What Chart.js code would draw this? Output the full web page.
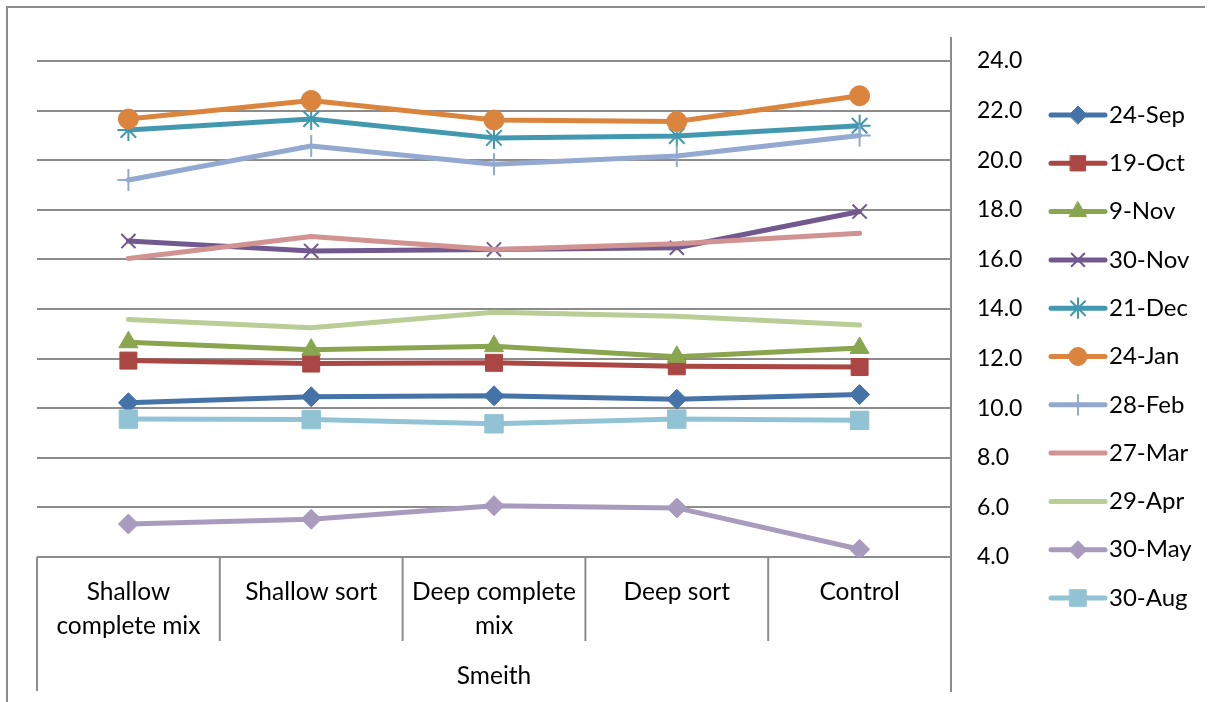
<!DOCTYPE html>
<html>
<head>
<meta charset="utf-8">
<script src="https://cdn.jsdelivr.net/npm/chart.js@4.4.1/dist/chart.umd.min.js"></script>
<style>
  html, body { margin: 0; padding: 0; background: #fff; }
  #wrap { position: relative; width: 1215px; height: 702px; }
</style>
</head>
<body>
<div id="wrap"><canvas id="chart" width="1215" height="702"></canvas></div>
<script>
// categories and group
const categories = [['Shallow', 'complete mix'], ['Shallow sort'], ['Deep complete', 'mix'], ['Deep sort'], ['Control']];
const groupLabel = 'Smeith';

// series values
const sep24 = [10.22, 10.46, 10.50, 10.36, 10.55];
const oct19 = [11.92, 11.80, 11.83, 11.69, 11.66];
const nov9  = [12.66, 12.36, 12.50, 12.07, 12.43];
const nov30 = [16.74, 16.34, 16.40, 16.47, 17.93];
const dec21 = [21.22, 21.66, 20.90, 20.98, 21.39];
const jan24 = [21.66, 22.41, 21.62, 21.56, 22.60];
const feb28 = [19.20, 20.57, 19.84, 20.17, 21.00];
const mar27 = [16.04, 16.92, 16.40, 16.63, 17.05];
const apr29 = [13.58, 13.24, 13.87, 13.71, 13.35];
const may30 = [5.33, 5.52, 6.07, 5.98, 4.31];
const aug30 = [9.56, 9.54, 9.37, 9.56, 9.51];

// y axis ticks
const yMin = 4, yMax = 24, yStep = 2;

const FONT = 'Lato';
const GRID = '#8c8c8c';

function series(label, data, color, style, radius, border) {
    return {
        label: label,
        data: data,
        borderColor: color,
        backgroundColor: color,
        pointBackgroundColor: color,
        pointBorderColor: color,
        pointStyle: style,
        pointRadius: style ? radius : 0,
        pointBorderWidth: border || 1,
        borderWidth: 5,
        borderJoinStyle: 'round',
        borderCapStyle: 'round',
        tension: 0
    };
}

const datasets = [
    series('24-Sep', sep24, '#4572A7', 'rectRot', 10),
    series('19-Oct', oct19, '#AA4643', 'rect', 12),
    series('9-Nov', nov9, '#89A54E', 'triangle', 11),
    series('30-Nov', nov30, '#71588F', 'crossRot', 10, 2),
    series('21-Dec', dec21, '#4198AF', 'star', 11, 2),
    series('24-Jan', jan24, '#DB843D', 'circle', 10),
    series('28-Feb', feb28, '#93A9CF', 'cross', 11, 2),
    series('27-Mar', mar27, '#D19392', false, 0),
    series('29-Apr', apr29, '#B9CD96', false, 0),
    series('30-May', may30, '#A99BBD', 'rectRot', 10),
    series('30-Aug', aug30, '#92C3D4', 'rect', 13)
];
// later series drawn on top, like the spreadsheet
datasets.forEach((d, i) => { d.order = datasets.length - i; });

// frame, category axis and legend drawn by hand
const excelAxis = {
    id: 'excelAxis',
    beforeDraw(chart) {
        const ctx = chart.ctx;
        ctx.save();
        ctx.strokeStyle = GRID;
        ctx.lineWidth = 2;
        ctx.beginPath();
        ctx.moveTo(7, 702);
        ctx.lineTo(7, 7);
        ctx.lineTo(1205, 7);
        ctx.stroke();
        ctx.restore();
    },
    afterDraw(chart) {
        const ctx = chart.ctx;
        const area = chart.chartArea;
        const xs = chart.scales.x;
        const n = categories.length;

        ctx.save();
        ctx.strokeStyle = GRID;
        ctx.lineWidth = 2;

        // right value axis line
        ctx.beginPath();
        ctx.moveTo(area.right, area.top - 24);
        ctx.lineTo(area.right, area.bottom + 135);
        ctx.stroke();

        // category separators
        for (let i = 0; i <= n; i++) {
            let px;
            if (i === 0) px = area.left;
            else if (i === n) px = area.right;
            else px = (xs.getPixelForValue(i - 1) + xs.getPixelForValue(i)) / 2;
            const outer = (i === 0 || i === n);
            ctx.beginPath();
            ctx.moveTo(px, area.bottom);
            ctx.lineTo(px, area.bottom + (outer ? 134 : 84));
            ctx.stroke();
        }

        // category labels
        ctx.fillStyle = '#000';
        ctx.font = '24.5px ' + FONT;
        ctx.textAlign = 'center';
        ctx.textBaseline = 'middle';
        categories.forEach((lines, i) => {
            const px = xs.getPixelForValue(i);
            lines.forEach((t, j) => ctx.fillText(t, px, area.bottom + 35 + j * 34));
        });
        ctx.fillText(groupLabel, (area.left + area.right) / 2, area.bottom + 119);

        // legend
        const lx = 1051, lw = 54;
        chart.data.datasets.forEach((d, i) => {
            const ly = 115 + i * 48.3;
            ctx.strokeStyle = d.borderColor;
            ctx.lineWidth = 5;
            ctx.lineCap = 'round';
            ctx.beginPath();
            ctx.moveTo(lx, ly);
            ctx.lineTo(lx + lw, ly);
            ctx.stroke();
            if (d.pointStyle) {
                ctx.fillStyle = d.pointBackgroundColor;
                ctx.strokeStyle = d.pointBorderColor;
                ctx.lineWidth = d.pointBorderWidth;
                Chart.helpers.drawPoint(ctx, {
                    pointStyle: d.pointStyle,
                    radius: d.pointRadius * 0.9,
                    rotation: 0,
                    borderWidth: d.pointBorderWidth
                }, lx + lw / 2, ly);
            }
            ctx.fillStyle = '#000';
            ctx.textAlign = 'left';
            ctx.font = '24px ' + FONT;
            ctx.fillText(d.label, lx + lw + 4, ly);
        });
        ctx.restore();
    }
};

const ctx = document.getElementById('chart').getContext('2d');
new Chart(ctx, {
    type: 'line',
    data: {
        labels: categories.map(c => c.join(' ')),
        datasets: datasets
    },
    options: {
        responsive: false,
        animation: false,
        devicePixelRatio: 1,
        layout: { padding: { left: 37, top: 61, right: 0, bottom: 145 } },
        plugins: {
            legend: { display: false },
            tooltip: { enabled: false }
        },
        scales: {
            x: {
                type: 'category',
                offset: true,
                display: false
            },
            y: {
                position: 'right',
                min: yMin,
                max: yMax,
                afterFit(scale) { scale.width = 264; },
                border: { display: false },
                grid: {
                    color: GRID,
                    lineWidth: 2,
                    drawTicks: false,
                    tickLength: 0
                },
                ticks: {
                    stepSize: yStep,
                    padding: 26,
                    color: '#000',
                    font: { family: FONT, size: 23 },
                    callback: v => v.toFixed(1)
                }
            }
        }
    },
    plugins: [excelAxis]
});
</script>
</body>
</html>
